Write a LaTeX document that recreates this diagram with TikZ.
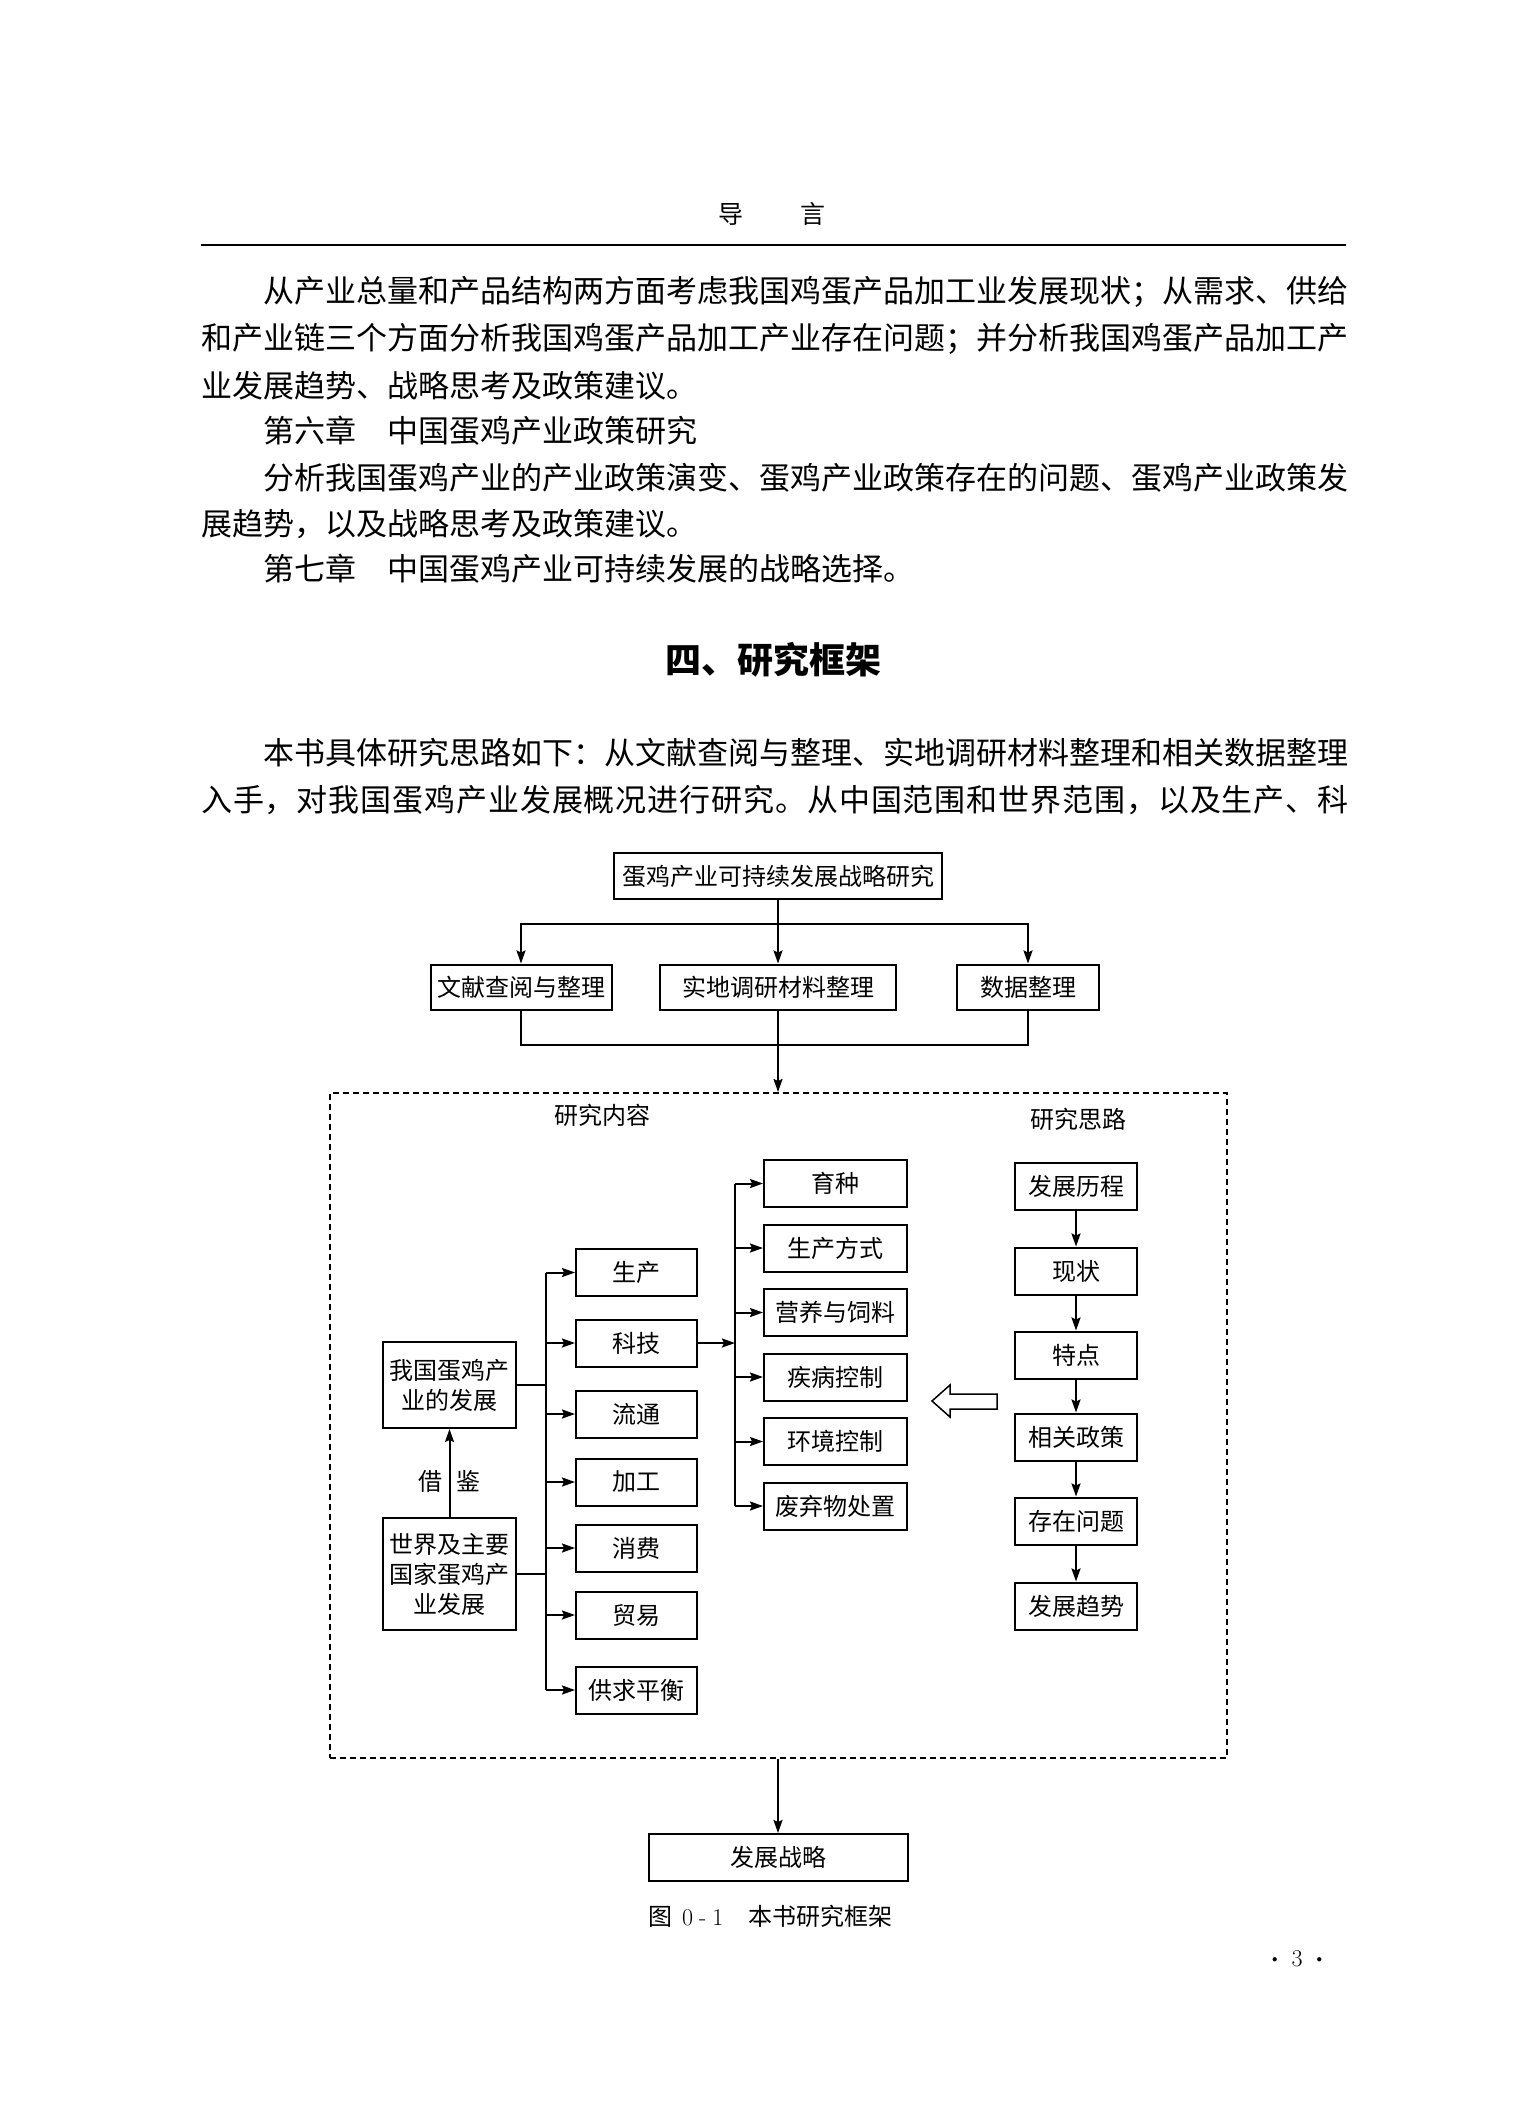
\documentclass[tikz,border=0pt]{standalone}
\usepackage{fontspec}
\newfontfamily\cjk{Noto Sans CJK SC}
\usetikzlibrary{positioning, arrows.meta}

\begin{document}
\begin{tikzpicture}[x=1pt, y=-1pt,
        box/.style={draw, rectangle, line width=2pt, minimum width=121pt, minimum height=47pt, inner sep=0pt, align=center, font=\cjk\fontsize{24}{30}\selectfont},
        frame/.style={draw, rectangle, line width=2pt, dash pattern=on 6pt off 4pt},
        arrow/.style={-{Stealth[length=13pt, width=9pt, inset=2pt]}, line width=2pt},
        link/.style={line width=2pt},
        body/.style={anchor=west, inner sep=0pt, font=\cjk\fontsize{31}{31}\selectfont},
        txt/.style={inner sep=0pt, font=\cjk\fontsize{24}{24}\selectfont}
    ]
    \useasboundingbox (0,0) rectangle (1534,2101);

    % page text
    \node[txt, font=\cjk\fontsize{25}{25}\selectfont] (Header) at (772,214) {导\hspace{57pt}言};
    \draw[line width=1.5pt] (201,245) -- (1346,245);
    \node[body] (P1) at (263,292) {从产业总量和产品结构两方面考虑我国鸡蛋产品加工业发展现状；从需求、供给};
    \node[body] (P2) at (201,339) {和产业链三个方面分析我国鸡蛋产品加工产业存在问题；并分析我国鸡蛋产品加工产};
    \node[body] (P3) at (201,386) {业发展趋势、战略思考及政策建议。};
    \node[body] (P4) at (263,431) {第六章　中国蛋鸡产业政策研究};
    \node[body] (P5) at (263,478) {分析我国蛋鸡产业的产业政策演变、蛋鸡产业政策存在的问题、蛋鸡产业政策发};
    \node[body] (P6) at (201,524) {展趋势，以及战略思考及政策建议。};
    \node[body] (P7) at (263,569) {第七章　中国蛋鸡产业可持续发展的战略选择。};
    \node[txt, font=\cjk\bfseries\fontsize{36}{36}\selectfont] (Section) at (773,660) {四、研究框架};
    \node[body] (P8) at (263,753) {本书具体研究思路如下：从文献查阅与整理、实地调研材料整理和相关数据整理};
    \node[body] (P9) at (201,800) {\addfontfeature{LetterSpace=2.9}入手，对我国蛋鸡产业发展概况进行研究。从中国范围和世界范围，以及生产、科};

    % top
    \node[box, minimum width=328pt, minimum height=46pt] (Strategy) at (778,876) {蛋鸡产业可持续发展战略研究};
    \node[box, minimum width=181pt, minimum height=45pt] (Literature) at (521,987) {文献查阅与整理};
    \node[box, minimum width=236pt, minimum height=45pt] (Survey) at (778,987) {实地调研材料整理};
    \node[box, minimum width=142pt, minimum height=45pt] (Data) at (1028,987) {数据整理};
    \coordinate (Split) at (778,924);
    \coordinate (Merge) at (778,1045);

    \draw[link] (Strategy) -- (Split);
    \draw[arrow] (Split) -| (Literature.north);
    \draw[arrow] (Split) -- (Survey);
    \draw[arrow] (Split) -| (Data.north);
    \draw[link] (Literature.south) |- (Merge) -| (Data.south);

    % research frame
    \node[frame, minimum width=897pt, minimum height=665pt] (Frame) at (778,1425.5) {};
    \draw[arrow] (Survey) -- (Frame.north);
    \node[txt] (ContentTitle) at (602,1115) {研究内容};
    \node[txt] (IdeaTitle) at (1078,1119) {研究思路};

    \node[box, minimum width=133pt, minimum height=86pt] (China) at (449.5,1385) {我国蛋鸡产\\业的发展};
    \node[box, minimum width=133pt, minimum height=112pt] (World) at (449.5,1574) {世界及主要\\国家蛋鸡产\\业发展};
    \draw[arrow] (World) -- node[txt, pos=0.4] (Lesson) {借\hspace{14pt}鉴} (China);

    \node[box] (Prod) at (636.5,1272.5) {生产};
    \node[box] (Tech) at (636.5,1343) {科技};
    \node[box] (Flow) at (636.5,1414) {流通};
    \node[box] (Proc) at (636.5,1482) {加工};
    \node[box] (Cons) at (636.5,1548) {消费};
    \node[box] (Trade) at (636.5,1615) {贸易};
    \node[box] (Balance) at (636.5,1690) {供求平衡};

    \node[box, minimum width=143pt] (Breed) at (835.5,1183.5) {育种};
    \node[box, minimum width=143pt, below=15.5pt of Breed] (Mode) {生产方式};
    \node[box, minimum width=143pt, below=15.5pt of Mode] (Feed) {营养与饲料};
    \node[box, minimum width=143pt, below=15.5pt of Feed] (Disease) {疾病控制};
    \node[box, minimum width=143pt, below=15.5pt of Disease] (Env) {环境控制};
    \node[box, minimum width=143pt, below=15.5pt of Env] (Waste) {废弃物处置};

    \node[box, minimum width=122pt] (History) at (1076,1186) {发展历程};
    \node[box, minimum width=122pt] (Status) at (1076,1271) {现状};
    \node[box, minimum width=122pt] (Feature) at (1076,1355) {特点};
    \node[box, minimum width=122pt] (Policy) at (1076,1437) {相关政策};
    \node[box, minimum width=122pt] (Problem) at (1076,1521) {存在问题};
    \node[box, minimum width=122pt] (Trend) at (1076,1606) {发展趋势};

    \coordinate (TrunkA) at (546,1272.5);
    \coordinate (TrunkB) at (735,1183.5);

    \draw[link] (China.east) -- (China.east -| TrunkA);
    \draw[link] (World.east) -- (World.east -| TrunkA);
    \draw[link] (Prod.west -| TrunkA) -- (Balance.west -| TrunkA);
    \foreach \n in {Prod, Tech, Flow, Proc, Cons, Trade, Balance}
        \draw[arrow] (\n.west -| TrunkA) -- (\n.west);

    \draw[arrow] (Tech.east) -- (Tech.east -| TrunkB);
    \draw[link] (Breed.west -| TrunkB) -- (Waste.west -| TrunkB);
    \foreach \n in {Breed, Mode, Feed, Disease, Env, Waste}
        \draw[arrow] (\n.west -| TrunkB) -- (\n.west);

    \draw[arrow] (History) -- (Status);
    \draw[arrow] (Status) -- (Feature);
    \draw[arrow] (Feature) -- (Policy);
    \draw[arrow] (Policy) -- (Problem);
    \draw[arrow] (Problem) -- (Trend);

    % hollow arrow
    \draw[line width=1.5pt, line join=miter] (997,1394) -- (950,1394) -- (950,1385) -- (932,1401) -- (950,1417) -- (950,1409) -- (997,1409) -- cycle;

    \node[box, minimum width=259pt] (Goal) at (778,1857.5) {发展战略};
    \draw[arrow] (Frame.south) -- (Goal);

    \node[txt, anchor=west] (Caption) at (648,1916) {图\hspace{10pt}{\rmfamily 0\hspace{6pt}-\hspace{6pt}1}\hspace{25pt}本书研究框架};
    \node[txt, font=\rmfamily\fontsize{24}{24}\selectfont] (PageNo) at (1297,1959) {\raisebox{4pt}{\fontsize{11}{11}\selectfont$\bullet$}\hspace{14pt}3\hspace{14pt}\raisebox{4pt}{\fontsize{11}{11}\selectfont$\bullet$}};

\end{tikzpicture}
\end{document}
